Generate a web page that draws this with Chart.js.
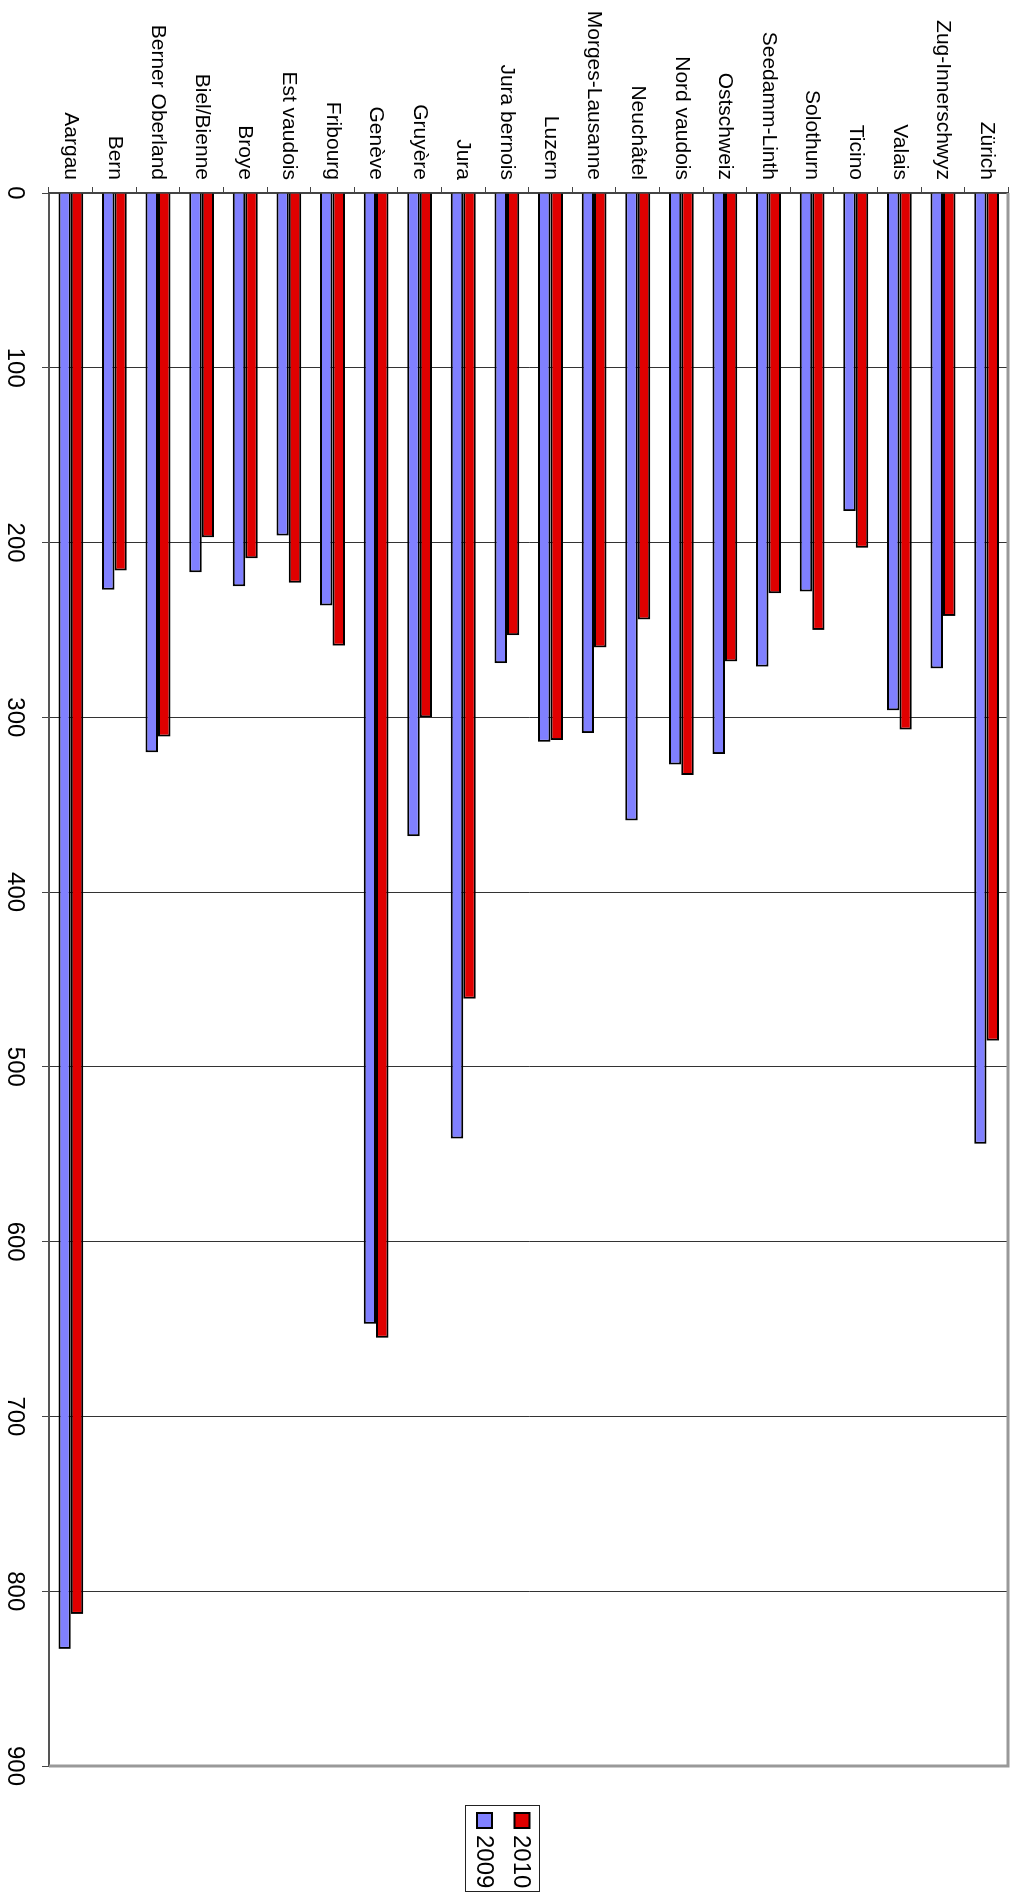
<!DOCTYPE html>
<html>
<head>
<meta charset="utf-8">
<script src="https://cdn.jsdelivr.net/npm/chart.js@4/dist/chart.umd.min.js"></script>
<style>
html,body{margin:0;padding:0;background:#fff;overflow:hidden;width:1028px;height:1894px;}
#wrap{position:absolute;left:0;top:0;width:1894px;height:1028px;transform-origin:0 0;transform:translateX(1028px) rotate(90deg);}
canvas{display:block;}
</style>
</head>
<body>
<div id="wrap"><canvas id="c" width="1894" height="1028"></canvas></div>
<script>
const categories = ['Aargau','Bern','Berner Oberland','Biel/Bienne','Broye','Est vaudois','Fribourg','Genève','Gruyère','Jura','Jura bernois','Luzern','Morges-Lausanne','Neuchâtel','Nord vaudois','Ostschweiz','Seedamm-Linth','Solothurn','Ticino','Valais','Zug-Innerschwyz','Zürich'];
const values2010 = [813,216,311,197,209,223,259,655,300,461,253,313,260,244,333,268,229,250,203,307,242,485];
const values2009 = [833,227,320,217,225,196,236,647,368,541,269,314,309,359,327,321,271,228,182,296,272,544];
const seriesLabels = ['2010','2009'];
const valueTicks = [0,100,200,300,400,500,600,700,800,900];

const FONT = '"Liberation Sans", Arial, Helvetica, sans-serif';

const frame = {
  id: 'frame',
  afterDatasetsDraw(chart) {
    const {ctx, chartArea: a} = chart;
    ctx.save();
    ctx.strokeStyle = '#999';
    ctx.lineWidth = 3;
    ctx.beginPath();
    ctx.moveTo(a.left, a.top + 0.5);
    ctx.lineTo(a.right + 1.5, a.top + 0.5);
    ctx.moveTo(a.right, a.top);
    ctx.lineTo(a.right, a.bottom);
    ctx.stroke();
    ctx.restore();
  }
};

const boxLegend = {
  id: 'boxLegend',
  afterDraw(chart) {
    const {ctx, chartArea: a} = chart;
    const x0 = a.right + 39, y0 = 488, w = 86, h = 74;
    ctx.save();
    ctx.strokeStyle = '#222';
    ctx.lineWidth = 1;
    ctx.strokeRect(x0 + 0.5, y0 + 0.5, w, h);
    chart.data.datasets.forEach((ds, i) => {
      const cy = y0 + 18 + i * 37.5;
      ctx.fillStyle = ds.backgroundColor;
      ctx.fillRect(x0 + 8, cy - 7.5, 15, 15);
      ctx.lineWidth = 2;
      ctx.strokeStyle = '#000';
      ctx.strokeRect(x0 + 8, cy - 7.5, 15, 15);
      ctx.fillStyle = '#000';
      ctx.font = '24px ' + FONT;
      ctx.textBaseline = 'middle';
      ctx.textAlign = 'left';
      ctx.fillText(ds.label, x0 + 30, cy + 1);
    });
    ctx.restore();
  }
};

new Chart(document.getElementById('c'), {
  type: 'bar',
  data: {
    labels: categories,
    datasets: [
      {label: seriesLabels[0], data: values2010, backgroundColor: '#e00000', borderColor: '#000', borderWidth: 2},
      {label: seriesLabels[1], data: values2009, backgroundColor: '#8080ff', borderColor: '#000', borderWidth: 2}
    ]
  },
  options: {
    indexAxis: 'y',
    responsive: false,
    animation: false,
    devicePixelRatio: 1,
    categoryPercentage: 0.57,
    barPercentage: 1.0,
    layout: {padding: {left: 0, top: 6, right: 128, bottom: 0}},
    plugins: {legend: {display: false}, tooltip: {enabled: false}},
    scales: {
      x: {
        type: 'linear',
        position: 'bottom',
        min: 0,
        max: 900,
        afterBuildTicks(scale) { scale.ticks = valueTicks.map(v => ({value: v})); },
        afterFit(scale) { scale.height = 49; },
        grid: {
          color: ctx => (ctx.tick && ctx.tick.value === 900) ? 'rgba(0,0,0,0)' : '#333',
          lineWidth: 1,
          tickColor: '#444',
          tickLength: 7,
          drawOnChartArea: true
        },
        border: {display: true, color: '#555', width: 2},
        ticks: {color: '#000', font: {family: FONT, size: 24}, padding: 13, maxRotation: 0, autoSkip: false}
      },
      y: {
        type: 'category',
        position: 'left',
        reverse: true,
        offset: true,
        afterFit(scale) { scale.width = 193; },
        grid: {
          offset: true,
          drawOnChartArea: false,
          color: '#444',
          tickColor: '#444',
          tickLength: 6,
          lineWidth: 1
        },
        border: {display: true, color: '#444', width: 2},
        ticks: {color: '#000', font: {family: FONT, size: 21}, padding: 7, autoSkip: false}
      }
    }
  },
  plugins: [frame, boxLegend]
});
</script>
</body>
</html>
